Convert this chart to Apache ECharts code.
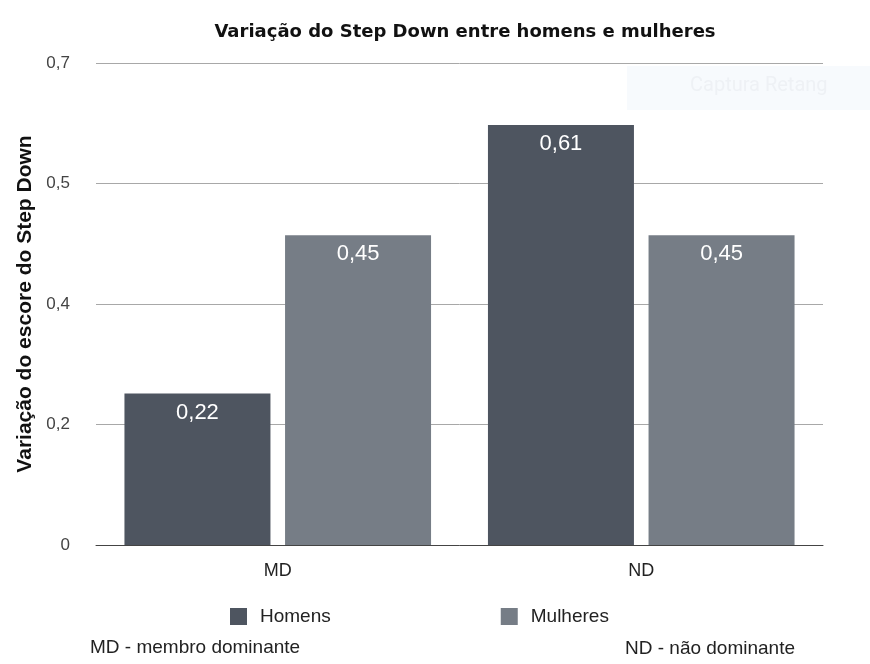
<!DOCTYPE html>
<html>
<head>
<meta charset="utf-8">
<script src="https://cdn.jsdelivr.net/npm/echarts@6/dist/echarts.min.js"></script>
<style>
  html, body { margin: 0; padding: 0; background: #fff; }
  #chart { width: 870px; height: 664px; }
</style>
</head>
<body>
<div id="chart"></div>
<script>
const categories = ["MD", "ND"]
const homens = [0.22, 0.61]
const mulheres = [0.45, 0.45]
const yTickLabels = ["0", "0,2", "0,4", "0,5", "0,7"]

const fmt = (v) => String(v).replace(".", ",")

const chart = echarts.init(document.getElementById("chart"), null, { renderer: "canvas" })

const barLabel = {
  show: true,
  position: "insideTop",
  distance: 8,
  color: "#fff",
  fontFamily: "Liberation Sans",
  fontSize: 22,
  formatter: (p) => fmt(p.value)
}

chart.setOption({
  backgroundColor: "#fff",
  animation: false,
  title: {
    text: "Variação do Step Down entre homens e mulheres",
    left: 460,
    textAlign: "center",
    top: 18,
    textStyle: { fontFamily: "DejaVu Sans", fontWeight: "bold", fontSize: 18, color: "#111" }
  },
  graphic: [
    {
      type: "rect",
      shape: { x: 627, y: 66, width: 243, height: 44 },
      style: { fill: "rgba(225,235,248,0.25)" },
      silent: true
    },
    {
      type: "text",
      left: 690,
      top: 76,
      style: { text: "Captura Retang", fill: "#eef1f5", font: "20px Roboto" },
      silent: true
    },
    {
      type: "text",
      left: 90,
      top: 638,
      style: { text: "MD - membro dominante", fill: "#222", font: "19px 'Liberation Sans'" }
    },
    {
      type: "text",
      left: 625,
      top: 639,
      style: { text: "ND - não dominante", fill: "#222", font: "19px 'Liberation Sans'" }
    }
  ],
  legend: {
    top: 602,
    left: 225,
    itemGap: 170,
    itemWidth: 17,
    itemHeight: 17,
    icon: "rect",
    textStyle: { fontFamily: "Liberation Sans", fontSize: 19, color: "#222", padding: [0, 0, 0, 8] },
    data: ["Homens", "Mulheres"]
  },
  grid: { left: 96, right: 47, top: 63, bottom: 119 },
  xAxis: {
    type: "category",
    data: categories,
    axisTick: { show: false },
    axisLine: { lineStyle: { color: "#444", width: 1 } },
    axisLabel: { margin: 17, fontFamily: "Liberation Sans", fontSize: 18, color: "#222" }
  },
  yAxis: {
    type: "value",
    min: 0,
    max: 0.7,
    interval: 0.175,
    name: "Variação do escore do Step Down",
    nameLocation: "middle",
    nameGap: 59,
    nameTextStyle: { fontFamily: "Liberation Sans", fontWeight: "bold", fontSize: 21, color: "#111" },
    axisLine: { show: false },
    axisTick: { show: false },
    splitLine: { lineStyle: { color: "#a8a8a8", width: 1 } },
    axisLabel: {
      margin: 26,
      fontFamily: "Liberation Sans",
      fontSize: 17,
      color: "#444",
      formatter: (v, i) => yTickLabels[i]
    }
  },
  series: [
    {
      name: "Homens",
      type: "bar",
      data: homens,
      barWidth: 146,
      barGap: "10%",
      itemStyle: { color: "#4e5560" },
      label: barLabel
    },
    {
      name: "Mulheres",
      type: "bar",
      data: mulheres,
      barWidth: 146,
      barGap: "10%",
      itemStyle: { color: "#767d86" },
      label: barLabel
    }
  ]
})
</script>
</body>
</html>
